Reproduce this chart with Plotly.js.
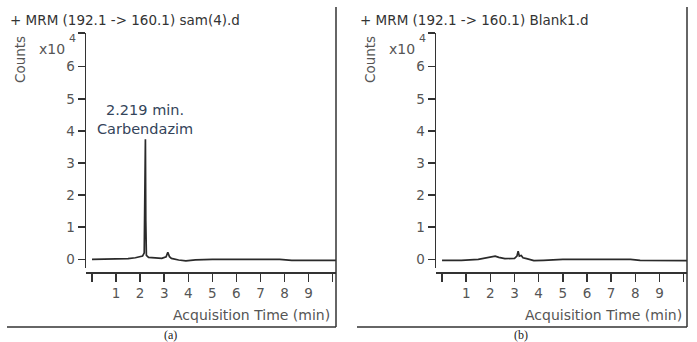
<!DOCTYPE html>
<html>
<head>
<meta charset="utf-8">
<script src="https://cdn.plot.ly/plotly-3.0.1.min.js"></script>
<style>html,body{margin:0;padding:0;background:#fff;}#chart{width:697px;height:342px;}</style>
</head>
<body>
<div id="chart"></div>
<script>
// Data (counts in units of x10^4, time in minutes)
var timeA   = [0, 0.5, 1.0, 1.5, 1.8, 2.0, 2.1, 2.17, 2.2, 2.219, 2.235, 2.26, 2.35, 2.6, 2.9, 3.08, 3.15, 3.22, 3.3, 3.6, 3.9, 4.3, 5, 6, 7, 7.8, 8.3, 9, 10.14];
var countsA = [0.0, 0.0, 0.0, 0.02, 0.05, 0.08, 0.1, 0.2, 1.6, 3.74, 1.2, 0.12, 0.06, 0.04, 0.03, 0.08, 0.22, 0.08, 0.03, -0.02, -0.05, -0.02, 0.0, 0.0, 0.0, 0.0, -0.03, -0.03, -0.03];
var timeB   = [0, 0.8, 1.5, 1.9, 2.2, 2.35, 2.6, 3.0, 3.1, 3.15, 3.2, 3.28, 3.35, 3.5, 3.8, 4.2, 5, 6, 7, 7.8, 8.2, 9, 10.14];
var countsB = [-0.03, -0.03, 0.0, 0.05, 0.1, 0.06, 0.02, 0.03, 0.1, 0.25, 0.1, 0.12, 0.05, 0.02, -0.04, -0.03, 0.0, 0.0, 0.0, 0.0, -0.03, -0.04, -0.04];
var peakTime = 2.219;
var peakCount = 3.74;
var peakName = "Carbendazim";
var titleA = "+ MRM (192.1 -> 160.1) sam(4).d";
var titleB = "+ MRM (192.1 -> 160.1) Blank1.d";
var yTickVals = [0, 1, 2, 3, 4, 5, 6, 7.05];
var yTickText = ["0", "1", "2", "3", "4", "5", "6", ""];
var xTickVals = [0, 1, 2, 3, 4, 5, 6, 7, 8, 9, 10];
var xTickText = ["", "1", "2", "3", "4", "5", "6", "7", "8", "9", ""];
var panelLabels = ["(a)", "(b)"];

var W = 697, H = 342;
function px(x) { return x / W; }
function py(y) { return 1 - y / H; }

var lineStyle = {color: "#2a2a2a", width: 1.7};
var traces = [
  {x: timeA, y: countsA, type: "scatter", mode: "lines", line: lineStyle, xaxis: "x", yaxis: "y", hoverinfo: "skip"},
  {x: timeB, y: countsB, type: "scatter", mode: "lines", line: lineStyle, xaxis: "x2", yaxis: "y2", hoverinfo: "skip"}
];

var FAM = "DejaVu Sans, Arial, sans-serif";
var tickFont = {family: FAM, size: 13.5, color: "#555"};
function yax(anchor) {
  return {
    domain: [py(268), py(33)], range: [-0.27, 7.05], anchor: anchor,
    showgrid: false, zeroline: false, showline: true, linecolor: "#333", linewidth: 1.5,
    ticks: "outside", ticklen: 7, tickwidth: 1.5, tickcolor: "#333",
    tickvals: yTickVals, ticktext: yTickText, tickfont: tickFont
  };
}
function xax(domain) {
  return {
    domain: domain, range: [-0.25, 10.14], anchor: "free", position: py(272),
    showgrid: false, zeroline: false, showline: true, linecolor: "#333", linewidth: 1.5,
    ticks: "outside", ticklen: 8, tickwidth: 1.5, tickcolor: "#333",
    tickvals: xTickVals, ticktext: xTickText, tickfont: tickFont
  };
}

var txt = {family: FAM, size: 13.5, color: "#333"};
var grey = {family: FAM, size: 14, color: "#555"};
function panelAnn(x0, title, xRight, lab, labX) {
  return [
    {xref: "paper", yref: "paper", x: px(x0), y: py(20), xanchor: "left", yanchor: "middle", text: title, showarrow: false, font: txt},
    {xref: "paper", yref: "paper", x: px(x0 + 12), y: py(60), xanchor: "center", yanchor: "middle", text: "Counts", textangle: -90, showarrow: false, font: {family: FAM, size: 13.5, color: "#555"}},
    {xref: "paper", yref: "paper", x: px(x0 + 29), y: py(49), xanchor: "left", yanchor: "middle", text: "x10", showarrow: false, font: grey},
    {xref: "paper", yref: "paper", x: px(x0 + 59), y: py(38), xanchor: "left", yanchor: "middle", text: "4", showarrow: false, font: {family: FAM, size: 11, color: "#555"}},
    {xref: "paper", yref: "paper", x: px(xRight), y: py(315), xanchor: "right", yanchor: "middle", text: "Acquisition Time (min)", showarrow: false, font: grey},
    {xref: "paper", yref: "paper", x: px(labX), y: py(335), xanchor: "center", yanchor: "middle", text: lab, showarrow: false, font: {family: "Liberation Serif, Times New Roman, serif", size: 12, color: "#222"}}
  ];
}
var annotations = [].concat(
  panelAnn(8, titleA, 332, panelLabels[0], 170),
  panelAnn(358, titleB, 684, panelLabels[1], 521),
  [{xref: "x", yref: "y", x: peakTime, y: peakCount, xanchor: "center", yanchor: "bottom", yshift: 0,
    text: peakTime.toFixed(3) + " min.<br>" + peakName, showarrow: false,
    font: {family: FAM, size: 14.5, color: "#34445a"}}]
);

var frame = {color: "#333", width: 1.5};
var shapes = [
  {type: "line", xref: "paper", yref: "paper", x0: px(336), x1: px(336), y0: py(7), y1: py(327), line: frame},
  {type: "line", xref: "paper", yref: "paper", x0: px(7), x1: px(336), y0: py(327), y1: py(327), line: frame},
  {type: "line", xref: "paper", yref: "paper", x0: px(687), x1: px(687), y0: py(7), y1: py(327), line: frame},
  {type: "line", xref: "paper", yref: "paper", x0: px(357), x1: px(687), y0: py(327), y1: py(327), line: frame}
];

var layout = {
  width: W, height: H, margin: {l: 0, r: 0, t: 0, b: 0},
  paper_bgcolor: "#fff", plot_bgcolor: "#fff", showlegend: false,
  xaxis: xax([px(86), px(336)]),
  yaxis: yax("x"),
  xaxis2: xax([px(436), px(687)]),
  yaxis2: yax("x2"),
  annotations: annotations, shapes: shapes
};

Plotly.newPlot("chart", traces, layout, {staticPlot: true});
</script>
</body>
</html>
